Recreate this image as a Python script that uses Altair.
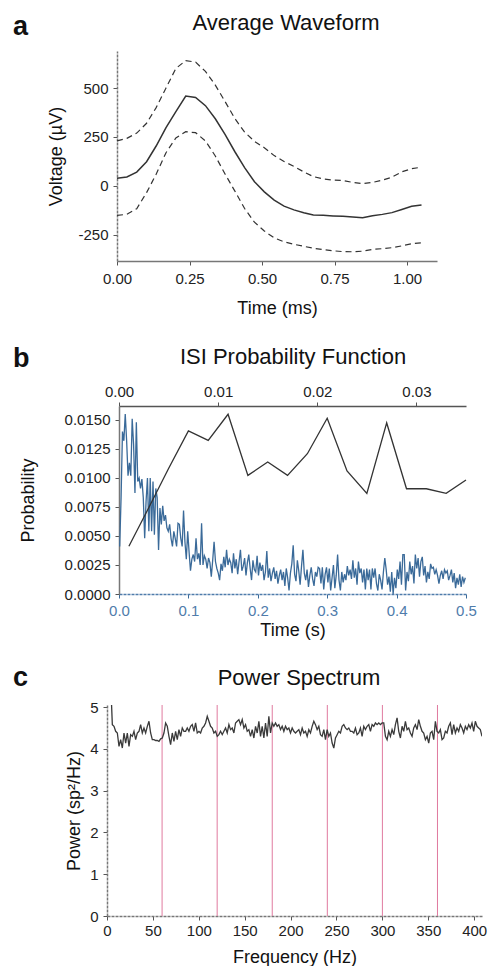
import altair as alt
import pandas as pd
import numpy as np

FONT = "Liberation Sans"
DARK = "#333333"
BLUE = "#3a6a99"
BLUE_LBL = "#4f7cab"
PINK = "#e07a9f"

# ---------------- Panel a: average waveform ----------------
wave_time = [0.000, 0.034, 0.068, 0.102, 0.135, 0.169, 0.203, 0.237, 0.271, 0.305,
             0.339, 0.373, 0.406, 0.440, 0.474, 0.508, 0.542, 0.576, 0.610, 0.644,
             0.677, 0.711, 0.745, 0.779, 0.813, 0.847, 0.881, 0.915, 0.948, 0.982,
             1.016, 1.050]
wave_mean = [39, 46, 71, 124, 204, 298, 379, 459, 452, 410,
             343, 262, 176, 94, 22, -30, -72, -103, -122, -137,
             -148, -150, -153, -155, -158, -162, -152, -145, -136, -120,
             -104, -97]
wave_upper = [230, 243, 270, 320, 400, 500, 600, 640, 632, 585,
              515, 430, 345, 275, 228, 195, 155, 125, 100, 72,
              48, 36, 30, 28, 18, 12, 18, 30, 45, 72,
              88, 96]
wave_lower = [-150, -145, -116, -34, 60, 170, 245, 277, 272, 230,
              153, 60, -25, -115, -185, -230, -265, -285, -298, -308,
              -318, -325, -331, -335, -336, -333, -324, -320, -315, -306,
              -295, -290]

# ---------------- Panel b: ISI probability ----------------
isi_long_prob = [
    0.0041, 0.0083, 0.0140, 0.0132, 0.0155, 0.0132, 0.0102, 0.0113, 0.0102, 0.0151,
    0.0129, 0.0087, 0.0148, 0.0097, 0.0100, 0.0091, 0.0099, 0.0083, 0.0048, 0.0080,
    0.0100, 0.0054, 0.0100, 0.0054, 0.0097, 0.0051, 0.0091, 0.0083, 0.0038, 0.0074,
    0.0060, 0.0076, 0.0063, 0.0068, 0.0057, 0.0054, 0.0060, 0.0048, 0.0041, 0.0054,
    0.0048, 0.0041, 0.0061, 0.0060, 0.0048, 0.0041, 0.0072, 0.0045, 0.0030, 0.0054,
    0.0036, 0.0020, 0.0030, 0.0034, 0.0028, 0.0048, 0.0030, 0.0035, 0.0025, 0.0061,
    0.0025, 0.0033, 0.0030, 0.0022, 0.0031, 0.0027, 0.0015, 0.0029, 0.0045, 0.0028,
    0.0022, 0.0018, 0.0012, 0.0026, 0.0020, 0.0032, 0.0023, 0.0038, 0.0025, 0.0030,
    0.0027, 0.0018, 0.0035, 0.0022, 0.0030, 0.0017, 0.0028, 0.0038, 0.0020, 0.0024,
    0.0031, 0.0016, 0.0027, 0.0034, 0.0022, 0.0012, 0.0029, 0.0021, 0.0019, 0.0033,
    0.0016, 0.0027, 0.0020, 0.0025, 0.0012, 0.0019, 0.0037, 0.0014, 0.0022, 0.0011,
    0.0018, 0.0023, 0.0013, 0.0020, 0.0009, 0.0016, 0.0021, 0.0012, 0.0019, 0.0007,
    0.0022, 0.0014, 0.0003, 0.0018, 0.0026, 0.0042, 0.0017, 0.0011, 0.0029, 0.0020,
    0.0008, 0.0024, 0.0038, 0.0018, 0.0012, 0.0021, 0.0006, 0.0016, 0.0023, 0.0013,
    0.0007, 0.0019, 0.0015, 0.0023, 0.0022, 0.0009, 0.0023, 0.0004, 0.0017, 0.0023,
    0.0010, 0.0022, 0.0003, 0.0014, 0.0025, 0.0005, 0.0016, 0.0034, 0.0012, 0.0003,
    0.0019, 0.0010, 0.0017, 0.0012, 0.0024, 0.0016, 0.0021, 0.0013, 0.0029, 0.0014,
    0.0022, 0.0008, 0.0028, 0.0018, 0.0022, 0.0010, 0.0021, 0.0004, 0.0022, 0.0012,
    0.0021, 0.0004, 0.0022, 0.0014, 0.0022, 0.0009, 0.0003, 0.0017, 0.0012, 0.0004,
    0.0019, 0.0031, 0.0021, 0.0008, 0.0015, 0.0002, 0.0019, 0.0000, 0.0014, 0.0005,
    0.0021, 0.0013, 0.0028, 0.0008, 0.0034, 0.0034, 0.0003, 0.0019, 0.0011, 0.0028,
    0.0017, 0.0024, 0.0009, 0.0034, 0.0022, 0.0031, 0.0015, 0.0028, 0.0032, 0.0016,
    0.0024, 0.0010, 0.0019, 0.0013, 0.0026, 0.0022, 0.0023, 0.0017, 0.0021, 0.0016,
    0.0009, 0.0016, 0.0020, 0.0013, 0.0021, 0.0018, 0.0020, 0.0012, 0.0016, 0.0021,
    0.0010, 0.0018, 0.0005, 0.0014, 0.0008, 0.0017, 0.0006, 0.0015, 0.0010, 0.0014,
]
isi_long_time = [round(0.001 + 0.002 * i, 4) for i in range(len(isi_long_prob))]

isi_short_time = [0.001, 0.003, 0.005, 0.007, 0.009, 0.011, 0.013, 0.015, 0.017,
                  0.019, 0.021, 0.023, 0.025, 0.027, 0.029, 0.031, 0.033, 0.035]
isi_short_prob = [0.00412, 0.00743, 0.01082, 0.01405, 0.01324, 0.01549, 0.01022, 0.01137,
                  0.01022, 0.01209, 0.01514, 0.01060, 0.00867, 0.01474, 0.00907, 0.00907,
                  0.00867, 0.00982]
prob_ticks = [0, 0.0025, 0.005, 0.0075, 0.01, 0.0125, 0.015]

# ---------------- Panel c: power spectrum ----------------
power_vals = [
    5.60, 4.58, 4.54, 4.42, 4.38, 4.06, 4.22, 4.02, 4.38, 4.14, 4.38, 4.06, 4.34, 4.30,
    4.42, 4.22, 4.38, 4.42, 4.58, 4.38, 4.50, 4.38, 4.54, 4.66, 4.38, 4.22, 4.22, 4.20,
    4.20, 4.18, 4.24, 4.26, 4.38, 4.62, 4.54, 4.30, 4.10, 4.38, 4.18, 4.42, 4.22, 4.46,
    4.30, 4.50, 4.42, 4.42, 4.50, 4.42, 4.54, 4.58, 4.42, 4.62, 4.38, 4.42, 4.38, 4.50,
    4.54, 4.62, 4.78, 4.66, 4.54, 4.50, 4.38, 4.42, 4.30, 4.34, 4.42, 4.34, 4.42, 4.50,
    4.38, 4.58, 4.46, 4.50, 4.38, 4.62, 4.66, 4.70, 4.58, 4.70, 4.50, 4.58, 4.42, 4.46,
    4.30, 4.46, 4.26, 4.54, 4.38, 4.66, 4.30, 4.54, 4.26, 4.62, 4.30, 4.78, 4.38, 4.62,
    4.54, 4.62, 4.54, 4.58, 4.46, 4.54, 4.42, 4.54, 4.46, 4.50, 4.38, 4.50, 4.42,
    4.38, 4.42, 4.46, 4.34, 4.50, 4.38, 4.42, 4.30, 4.46, 4.38, 4.54, 4.66, 4.58, 4.46,
    4.54, 4.34, 4.30, 4.46, 4.22, 4.46, 4.30, 4.38, 4.14, 4.02, 4.26, 4.34, 4.42, 4.38,
    4.54, 4.58, 4.50, 4.46, 4.50, 4.42, 4.42, 4.38, 4.50, 4.34, 4.38, 4.50, 4.30, 4.54,
    4.46, 4.54, 4.58, 4.42, 4.58, 4.54, 4.62, 4.58, 4.62, 4.58, 4.62, 4.62, 4.30, 4.22,
    4.42, 4.30, 4.46, 4.34, 4.58, 4.74, 4.42, 4.26, 4.54, 4.42, 4.66, 4.46, 4.50, 4.38,
    4.30, 4.50, 4.58, 4.46, 4.70, 4.54, 4.42, 4.38, 4.22, 4.30, 4.14, 4.38, 4.42, 4.22,
    4.66, 4.42, 4.38, 4.46, 4.22, 4.26, 4.42, 4.38, 4.54, 4.62, 4.34, 4.58, 4.38, 4.50,
    4.42, 4.58, 4.50, 4.38, 4.54, 4.46, 4.58, 4.50, 4.62, 4.42, 4.66, 4.54, 4.50, 4.46,
    4.30,
]
power_freq = [round(f, 2) for f in np.linspace(4.0, 408.5, len(power_vals))]
line_noise_hz = [60, 120, 180, 240, 300, 360]

# ---------------- helpers ----------------
def text_layer(txt, x, y, size, bold=False, align="left"):
    return alt.Chart(pd.DataFrame({"t": [txt]})).mark_text(
        align=align, baseline="alphabetic", font=FONT, fontSize=size,
        fontWeight="bold" if bold else "normal", color="#111111"
    ).encode(x=alt.value(x), y=alt.value(y), text="t:N")

# ---------------- Panel a ----------------
wave_df = pd.DataFrame({"time": wave_time, "mean": wave_mean,
                        "upper": wave_upper, "lower": wave_lower})
xa = alt.X("time:Q", scale=alt.Scale(domain=[0, 1.1034], nice=False),
           axis=alt.Axis(values=[0, 0.25, 0.5, 0.75, 1.0], format=".2f",
                         title="Time (ms)", labelPadding=6, titlePadding=13))
ya_axis = alt.Axis(values=[-250, 0, 250, 500], title="Voltage (µV)",
                   labelExpr="datum.value < 0 ? '-' + format(-datum.value, 'd') : format(datum.value, 'd')",
                   domainDash=[3, 1], labelPadding=5, titlePadding=12, labelOverlap=False)
ya_scale = alt.Scale(domain=[-383, 689], nice=False)
base_a = alt.Chart(wave_df)
a_upper = base_a.mark_line(color=DARK, strokeWidth=1.2, strokeDash=[6, 4]).encode(
    x=xa, y=alt.Y("upper:Q", scale=ya_scale, axis=ya_axis))
a_lower = base_a.mark_line(color=DARK, strokeWidth=1.2, strokeDash=[6, 4]).encode(
    x=xa, y=alt.Y("lower:Q", scale=ya_scale, axis=ya_axis))
a_mean = base_a.mark_line(color=DARK, strokeWidth=1.5).encode(
    x=xa, y=alt.Y("mean:Q", scale=ya_scale, axis=ya_axis))
panel_a = alt.layer(
    a_upper, a_lower, a_mean,
    text_layer("a", -104, -16, 27, bold=True),
    text_layer("Average Waveform", 169, -21, 22, align="center"),
).properties(width=320, height=210)

# ---------------- Panel b ----------------
long_df = pd.DataFrame({"t": isi_long_time, "p": isi_long_prob})
short_df = pd.DataFrame({"t": isi_short_time, "p": isi_short_prob})
yb_scale = alt.Scale(domain=[0, 0.0162], nice=False)
yb_axis = alt.Axis(values=prob_ticks, format=".4f", title="Probability",
                   labelPadding=5, titlePadding=27, labelOverlap=False)
b_blue = alt.Chart(long_df).mark_line(color=BLUE, strokeWidth=1.3).encode(
    x=alt.X("t:Q", scale=alt.Scale(domain=[0, 0.5], nice=False),
            axis=alt.Axis(orient="bottom", values=[0, 0.1, 0.2, 0.3, 0.4, 0.5],
                          format=".1f", title="Time (s)", labelColor=BLUE_LBL,
                          tickColor=BLUE, domainColor=BLUE_LBL, domainDash=[3, 1],
                          labelPadding=5, titlePadding=3)),
    y=alt.Y("p:Q", scale=yb_scale, axis=yb_axis))
b_black = alt.Chart(short_df).mark_line(color=DARK, strokeWidth=1.3).encode(
    x=alt.X("t:Q", scale=alt.Scale(domain=[0, 0.035], nice=False),
            axis=alt.Axis(orient="top", values=[0, 0.01, 0.02, 0.03],
                          format=".2f", title=None, domainColor="#555555")),
    y=alt.Y("p:Q", scale=yb_scale, axis=yb_axis))
panel_b = alt.layer(
    b_blue, b_black,
    text_layer("b", -106, -39, 27, bold=True),
    text_layer("ISI Probability Function", 174, -42, 22, align="center"),
).resolve_scale(x="independent").properties(width=347, height=188)

# ---------------- Panel c ----------------
spec_df = pd.DataFrame({"f": power_freq, "power": power_vals})
noise_df = pd.DataFrame({"f": line_noise_hz})
xc = alt.X("f:Q", scale=alt.Scale(domain=[0, 408.5], nice=False),
           axis=alt.Axis(values=[0, 50, 100, 150, 200, 250, 300, 350, 400],
                         format="d", title="Frequency (Hz)", domainDash=[3, 1]))
yc = alt.Y("power:Q", scale=alt.Scale(domain=[0, 5.05], nice=False),
           axis=alt.Axis(values=[0, 1, 2, 3, 4, 5], format="d",
                         title="Power (sp²/Hz)", domainDash=[3, 1],
                         labelPadding=5, titlePadding=6))
c_rules = alt.Chart(noise_df).mark_rule(color=PINK, strokeWidth=1).encode(x=xc)
c_line = alt.Chart(spec_df).mark_line(color="#3a3a3a", strokeWidth=1.3, clip=True).encode(
    x=xc, y=yc)
panel_c = alt.layer(
    c_rules, c_line,
    text_layer("c", -94, -19, 27, bold=True),
    text_layer("Power Spectrum", 192, -20, 22, align="center"),
).properties(width=375, height=211)


def with_spacer(p):
    # a 1px invisible spacer in front of each panel, so that every panel's
    # left edge (its bold letter) starts at the same page position
    spacer = alt.Chart(pd.DataFrame({"s": [0]})).mark_point(opacity=0, size=1).encode(
        x=alt.value(0), y=alt.value(0)).properties(width=1, height=1)
    return alt.hconcat(spacer, p, spacing=0)


upper_part = alt.vconcat(with_spacer(panel_a), with_spacer(panel_b), spacing=28)
chart = alt.vconcat(upper_part, with_spacer(panel_c), spacing=25).configure(
    padding={"left": 3, "top": 4, "right": 2, "bottom": 0},
    background="white",
).configure_view(stroke=None).configure_axis(
    labelFont=FONT, labelFontSize=15, labelColor="#222222",
    titleFont=FONT, titleFontSize=18, titleFontWeight="normal", titleColor="#111111",
    tickColor="#555555", tickSize=4, domainColor="#777777", domainWidth=1.5,
    grid=False, labelPadding=3, titlePadding=8, labelFlush=False, labelOverlap=False,
).configure_axisX(titlePadding=10)

chart.save("out.html", embed_options={"renderer": "svg", "actions": False})
